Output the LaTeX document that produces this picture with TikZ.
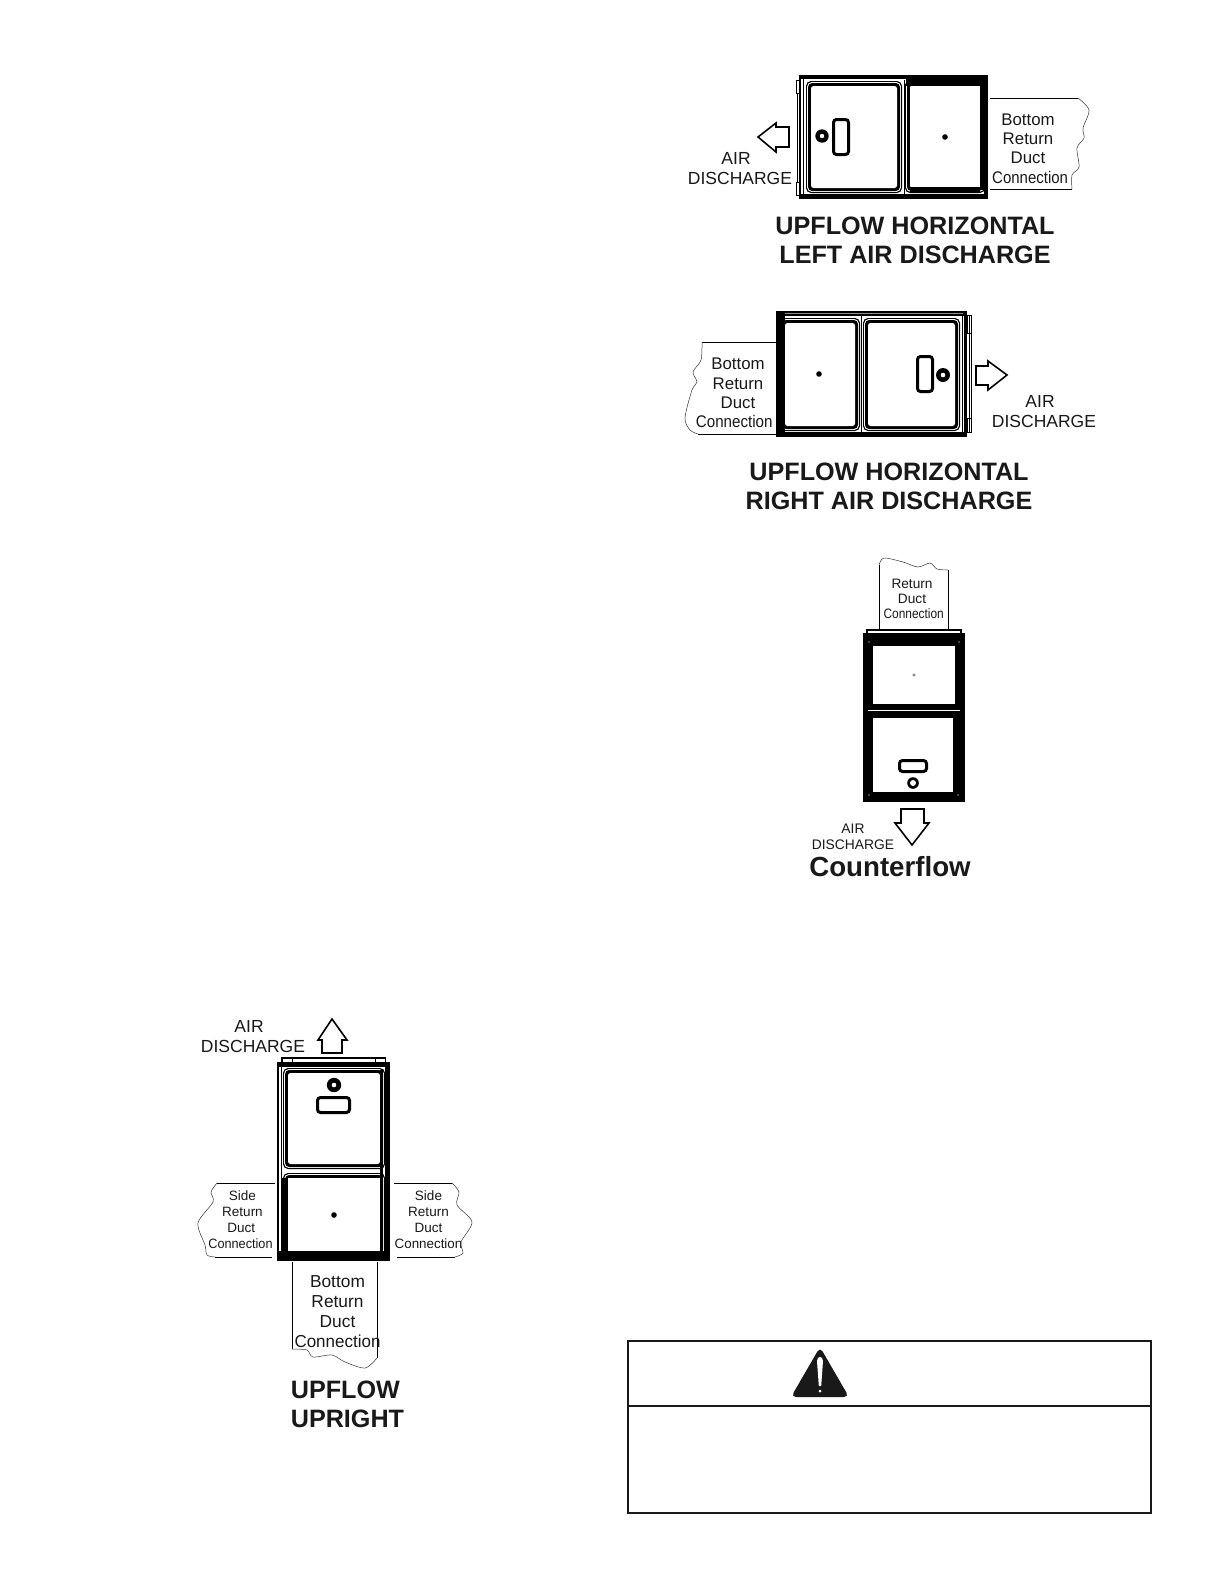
\documentclass[tikz,border=0pt]{standalone}
\usepackage{fontspec}
\setmainfont{Liberation Sans}
\newcommand{\frameblock}[8]{%
  \fill[black] (#1,#2) rectangle (#3,#4);
  \fill[white] (#5,#6) rectangle (#7,#8);}
\newcommand{\doublepanel}[4]{%
  \fill[black,rounded corners=3] (#1,#2) rectangle (#3,#4);
  \fill[white,rounded corners=2.5] ({#1+1.2},{#2+1.2}) rectangle ({#3-1.2},{#4-1.2});
  \fill[black,rounded corners=2.5] ({#1+2},{#2+2}) rectangle ({#3-2},{#4-2});
  \fill[white,rounded corners=1.5] ({#1+5},{#2+5}) rectangle ({#3-5},{#4-5});}
\newcommand{\knob}[4]{%
  \fill[black] (#1,#2) circle[radius=#3];
  \fill[white] (#1,#2) circle[radius=#4];}
\newcommand{\cn}[1]{\scalebox{#1}[1]{Connection}}
\tikzset{
  x=0.6bp,y=-0.6bp,
  ductline/.style={line width=0.55bp,black},
  tornedge/.style={line width=0.3bp,black!80},
  handle/.style={line width=1.8bp,rounded corners=1.8bp,fill=white,draw=black},
  flowarrow/.style={line width=0.95bp,draw=black,fill=white,miter limit=6},
  tab/.style={line width=0.6bp,draw=black,fill=white},
  ductlabel/.style={inner sep=0,align=center,text=black!90},
  titlelabel/.style={inner sep=0,align=center,font=\bfseries\fontsize{15.1bp}{17.5bp}\selectfont,text=black!90},
  boxrule/.style={line width=1.2bp,draw=black!90},
  thinwhite/.style={white,line width=0.45bp}
}
\begin{document}
\begin{tikzpicture}
\useasboundingbox (0,0) rectangle (1224,1584);
\fill[white] (0,0) rectangle (1224,1584);

% ---------- Upflow horizontal, left discharge
\draw[tab] (796,80) rectangle (799,93);
\draw[tab] (796,182) rectangle (799,195);
\draw[line width=0.3bp] (797.5,93) -- (797.5,182);
\frameblock{799}{75}{988}{199}{801}{79}{984}{195}
\draw[line width=0.8bp] (803.8,79) -- (803.8,195);
\doublepanel{806}{81}{902}{193}
\draw[line width=0.5bp] (904,80) -- (904,195);
\doublepanel{905}{80}{985}{193}
\fill[black] (906,77) rectangle (985,86);
\fill[black] (979,84) rectangle (985,190);
\fill[black] (910,187) rectangle (980,192);
\fill[black] (801,193.5) rectangle (985,195.5);
\fill[white] (911,86) rectangle (979.5,187);
\draw[handle] (833.5,119.5) rectangle (848.5,154.5);
\knob{822}{136}{6.7}{2.2}
\fill (945,137) circle[radius=2.8];
\draw[flowarrow] (789,127) -- (776,127) -- (776,123) -- (758,137) -- (776,152) -- (776,147) -- (789,147) -- cycle;
\coordinate (h1a) at (990,98); \coordinate (h1b) at (1078,98);
\coordinate (h1c) at (1072,189); \coordinate (h1d) at (990,189);
\draw[ductline] (h1a) -- (h1b);
\draw[ductline] (h1c) -- (h1d);
\draw[tornedge] plot[smooth] coordinates {(1078,98) (1089,110) (1083,128) (1084,138) (1077,148) (1079,167) (1072,175) (1072,189)};
\node[ductlabel,font=\fontsize{10.1bp}{11.6bp}\selectfont] (h1duct) at (1028,148.5) {Bottom\\Return\\Duct\\\hspace*{0.25em}\cn{0.89}};
\node[ductlabel,font=\fontsize{10.5bp}{11.6bp}\selectfont] (h1air) at (740,168.5) {AIR\hspace*{0.45em}\\DISCHARGE};
\node[titlelabel] (h1title) at (915,240.5) {UPFLOW HORIZONTAL\\LEFT AIR DISCHARGE};

% ---------- Upflow horizontal, right discharge
\draw[tab] (967,315) rectangle (971,333);
\draw[tab] (967,418) rectangle (971,432);
\draw[line width=0.3bp] (969,315) -- (969,432);
\draw[line width=0.3bp] (971,333) -- (971,418);
\frameblock{776}{311}{967}{437}{785}{316}{962}{432}
\draw[black!45,line width=0.9bp] (785,313.5) -- (963,313.5);
\doublepanel{780}{318}{860}{431}
\draw[line width=0.5bp] (861.7,316) -- (861.7,432);
\doublepanel{863}{318}{960}{431}
\fill[black] (776,311) rectangle (785,437);
\draw[thinwhite] (963.5,316) -- (963.5,432);
\draw[handle] (917.5,356.5) rectangle (932.5,391.5);
\knob{943}{375}{7}{2.3}
\fill (819,374) circle[radius=2.8];
\draw[flowarrow] (976,366) -- (988,366) -- (988,361) -- (1007,375) -- (988,390) -- (988,385) -- (976,385) -- cycle;
\coordinate (h2a) at (785,342); \coordinate (h2b) at (702,342);
\coordinate (h2c) at (698,434); \coordinate (h2d) at (776,434);
\draw[ductline] (h2a) -- (h2b);
\draw[ductline] (h2c) -- (h2d);
\draw[tornedge] plot[smooth] coordinates {(702,342) (701,360) (693,372) (697,382) (692,390) (685,418) (690,430) (698,434)};
\node[ductlabel,font=\fontsize{10.1bp}{11.6bp}\selectfont] (h2duct) at (738,393) {Bottom\\Return\\Duct\\\hspace*{-0.45em}\cn{0.9}};
\node[ductlabel,font=\fontsize{10.5bp}{11.8bp}\selectfont] (h2air) at (1044,411.5) {AIR\hspace*{0.45em}\\DISCHARGE};
\node[titlelabel] (h2title) at (889,486.5) {UPFLOW HORIZONTAL\\RIGHT AIR DISCHARGE};

% ---------- Counterflow
\draw[line width=1bp,fill=white] (867,630) rectangle (961,634);
\coordinate (c1a) at (879,630); \coordinate (c1b) at (879,565);
\coordinate (c1c) at (948,570); \coordinate (c1d) at (948,630);
\draw[ductline] (c1a) -- (c1b);
\draw[ductline] (c1c) -- (c1d);
\draw[tornedge] plot[smooth] coordinates {(879,565) (884,558) (903,562) (918,567) (930,563) (937,569) (948,570)};
\frameblock{863}{633}{965}{802}{873}{646}{955}{704}
\fill[white] (873,718) rectangle (953,792);
\draw[white,line width=0.5bp] (868,710) -- (960,710);
\foreach \cx/\cy in {869/642,959/642,869/795,958/795}
  \fill[black!45] (\cx,\cy) circle[radius=0.9];
\draw[handle] (899.5,760.5) rectangle (926.5,771.5);
\knob{913}{783}{5.8}{3}
\draw[black!60,line width=0.3bp,fill=white] (914,675) circle[radius=1.3];
\draw[flowarrow] (901,809) -- (924,809) -- (924,823) -- (929,823) -- (912,845) -- (895,823) -- (901,823) -- cycle;
\node[ductlabel,font=\fontsize{8.2bp}{9bp}\selectfont] (cfduct) at (912,598.5) {Return\\Duct\\\hspace*{0.25em}\cn{0.87}};
\node[ductlabel,font=\fontsize{8.3bp}{9.8bp}\selectfont] (cfair) at (853,837) {AIR\\DISCHARGE};
\node[inner sep=0,font=\bfseries\fontsize{16.6bp}{18bp}\selectfont,text=black!90] (cftitle) at (890,867) {Counterflow};

% ---------- Upflow upright
\draw[line width=0.8bp,fill=white] (282,1058) rectangle (385,1063);
\draw[tab] (282,1058) rectangle (292,1062);
\draw[tab] (375,1058) rectangle (385,1062);
\frameblock{277}{1062}{390}{1261}{279}{1067}{388}{1258}
\draw[line width=0.7bp] (281.2,1067) -- (281.2,1258);
\doublepanel{283}{1068}{385}{1169}
\doublepanel{283}{1173}{385}{1256}
\fill[black] (281,1178) rectangle (288,1256);
\fill[black] (380,1070) rectangle (383,1256);
\fill[black] (279,1251) rectangle (388,1261);
\fill[black] (385,1067) rectangle (388,1258);
\fill[white] (288,1178) rectangle (380,1251);
\draw[handle] (317.5,1097.5) rectangle (349.5,1112.5);
\knob{334}{1085}{7.2}{2.3}
\fill (334,1215) circle[radius=2.8];
\draw[flowarrow] (322,1053) -- (342,1053) -- (342,1040) -- (347,1040) -- (332,1019) -- (318,1040) -- (322,1040) -- cycle;
\node[ductlabel,font=\fontsize{10.5bp}{11.6bp}\selectfont] (upair) at (253,1036.5) {AIR\hspace*{0.45em}\\DISCHARGE};
\coordinate (u1a) at (275,1183); \coordinate (u1b) at (217,1183);
\coordinate (u1c) at (215,1257); \coordinate (u1d) at (272,1257);
\draw[ductline] (u1a) -- (u1b);
\draw[ductline] (u1c) -- (u1d);
\draw[tornedge] plot[smooth] coordinates {(217,1183) (211,1192) (213,1202) (198,1223) (205,1245) (207,1255) (215,1257)};
\node[ductlabel,font=\fontsize{8.1bp}{9.6bp}\selectfont] (upleft) at (242.5,1219.5) {Side\\Return\\\hspace*{-0.2em}Duct\\\hspace*{-0.3em}\cn{0.94}};
\coordinate (u2a) at (394,1183); \coordinate (u2b) at (452,1183);
\coordinate (u2c) at (455,1257); \coordinate (u2d) at (397,1257);
\draw[ductline] (u2a) -- (u2b);
\draw[ductline] (u2c) -- (u2d);
\draw[tornedge] plot[smooth] coordinates {(452,1183) (459,1192) (457,1205) (472,1222) (461,1242) (463,1253) (455,1257)};
\node[ductlabel,font=\fontsize{8.1bp}{9.6bp}\selectfont] (upright) at (428.5,1220) {Side\\Return\\Duct\\\cn{0.99}};
\coordinate (u3a) at (292,1262); \coordinate (u3b) at (292,1349);
\coordinate (u3c) at (377,1358); \coordinate (u3d) at (377,1262);
\draw[ductline] (u3a) -- (u3b);
\draw[ductline] (u3c) -- (u3d);
\draw[tornedge] plot[smooth] coordinates {(292,1349) (307,1350) (313,1357) (332,1355) (345,1362) (365,1368) (377,1358)};
\node[ductlabel,font=\fontsize{10.4bp}{12bp}\selectfont] (upbottom) at (337.5,1312) {Bottom\\Return\\Duct\\\cn{0.98}};
\node[titlelabel,align=left,anchor=west] (uptitle) at (290.5,1404) {UPFLOW\\UPRIGHT};

% ---------- Warning box
\draw[boxrule] (628,1341) rectangle (1151,1513);
\draw[boxrule] (628,1406) -- (1151,1406);
\fill[black!90,rounded corners=3] (820,1347) -- (849,1397) -- (791,1397) -- cycle;
\fill[white] (817,1361) .. controls (817,1355.5) and (823,1355.5) .. (823,1361) -- (821.2,1386) -- (818.8,1386) -- cycle;
\fill[white] (820,1391) circle[radius=1.5];
\end{tikzpicture}
\end{document}
